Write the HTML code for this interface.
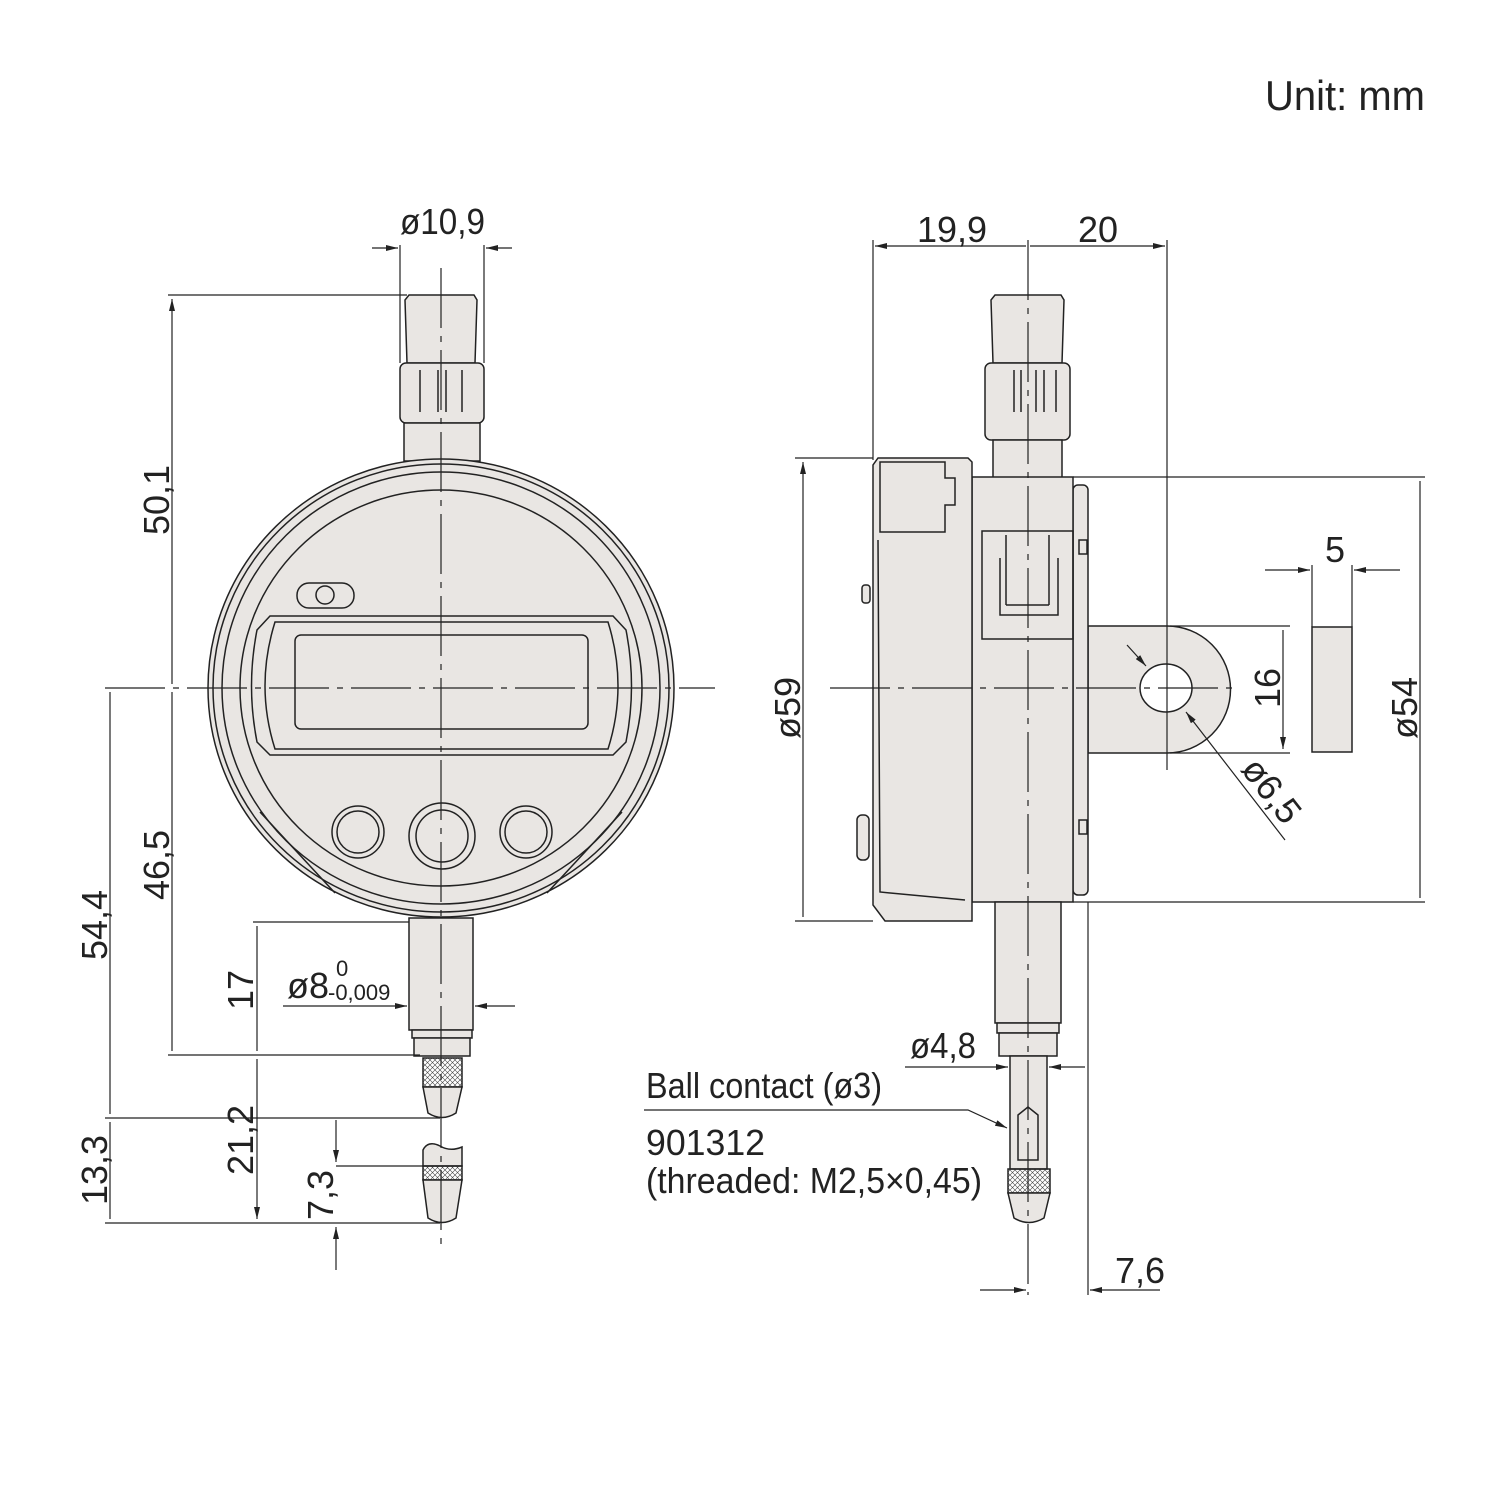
<!DOCTYPE html>
<html><head><meta charset="utf-8"><style>
html,body{margin:0;padding:0;background:#fff}
svg{display:block}
text{font-family:"Liberation Sans",sans-serif;fill:#222}
</style></head><body>
<svg width="1500" height="1500" viewBox="0 0 1500 1500" xmlns="http://www.w3.org/2000/svg">
<defs>
<marker id="a" viewBox="0 0 12 6" refX="12" refY="3" markerWidth="12" markerHeight="6" orient="auto-start-reverse" markerUnits="userSpaceOnUse"><path d="M0,0 L12,3 L0,6z" fill="#222"/></marker>
<pattern id="k" width="5" height="5" patternUnits="userSpaceOnUse"><path d="M0,0L5,5M5,0L0,5" stroke="#444" stroke-width="0.6"/></pattern>
</defs>
<g stroke="#222" stroke-width="1.5" fill="#e9e6e3">
<path d="M409,295 L474,295 L477,300 L475,363 L407,363 L405,300z"/>
<rect x="400" y="363" width="84" height="60" rx="6"/>
<path d="M420,370 V412 M438,370 V412 M446,370 V412 M462,370 V412" fill="none"/>
<rect x="404" y="423" width="76" height="38"/>
<ellipse cx="441" cy="688" rx="233" ry="229"/>
<ellipse cx="441" cy="688" rx="228" ry="224" fill="none"/>
<ellipse cx="441" cy="688" rx="219" ry="216" fill="none"/>
<ellipse cx="441" cy="688" rx="201" ry="198" fill="none"/>
<path d="M260,812 L335,893 M622,812 L547,893" fill="none"/>
<rect x="297" y="583" width="57" height="25" rx="12"/>
<circle cx="325" cy="595" r="9"/>
<path d="M270,616 L613,616 L626,630 Q637,686 626,742 L613,755 L270,755 L257,742 Q246,686 257,630z"/>
<path d="M275,622 L608,622 Q628,686 608,749 L275,749 Q255,686 275,622z" fill="none"/>
<rect x="295" y="635" width="293" height="94" rx="6"/>
<circle cx="358" cy="832" r="26"/><circle cx="358" cy="832" r="21"/>
<circle cx="442" cy="836" r="33"/><circle cx="442" cy="836" r="26"/>
<circle cx="526" cy="832" r="26"/><circle cx="526" cy="832" r="21"/>
<rect x="409" y="918" width="64" height="112"/>
<rect x="412" y="1030" width="60" height="8"/>
<rect x="414" y="1038" width="56" height="18"/>
<rect x="423" y="1058" width="39" height="29" fill="url(#k)"/>
<path d="M423,1087 L462,1087 L456,1113 Q442,1122 428,1113z"/>
<path d="M423,1166 L423,1150 Q428,1140 440,1146 Q450,1152 462,1147 L462,1166z"/>
<rect x="423" y="1166" width="39" height="14" fill="url(#k)"/>
<path d="M423,1180 L462,1180 L456,1218 Q442,1227 428,1218z"/>
<path d="M995,295 L1061,295 L1064,300 L1062,363 L993,363 L991,300z"/>
<rect x="985" y="363" width="85" height="77" rx="6"/>
<path d="M1014,370 V412 M1021,370 V412 M1036,370 V412 M1044,370 V412 M1056,370 V412" fill="none"/>
<rect x="993" y="440" width="69" height="38"/>
<path d="M1088,626 L1167,626 A63,63 0 0 1 1167,753 L1088,753z"/>
<ellipse cx="1166" cy="688" rx="26" ry="24" fill="#fff"/>
<rect x="1073" y="485" width="15" height="410" rx="5"/>
<rect x="972" y="477" width="101" height="425"/>
<rect x="982" y="531" width="91" height="108" fill="none"/>
<path d="M1006,535 V605 M1049,535 V605 M1006,605 H1049 M1000,558 V615 H1058 V558" fill="none"/>
<path d="M878,458 L968,458 L972,462 L972,921 L885,921 L873,905 L873,465z"/>
<path d="M880,462 L945,462 L945,478 L955,478 L955,505 L945,505 L945,532 L880,532z" fill="none"/>
<path d="M878,540 L880,892 L965,900" fill="none"/>
<rect x="862" y="585" width="8" height="18" rx="3"/>
<rect x="857" y="815" width="12" height="45" rx="5"/>
<rect x="1079" y="540" width="8" height="14"/><rect x="1079" y="820" width="8" height="14"/>
<rect x="995" y="902" width="66" height="121"/>
<rect x="997" y="1023" width="62" height="10"/>
<rect x="999" y="1033" width="58" height="23"/>
<rect x="1010" y="1056" width="37" height="113"/>
<path d="M1018,1115 L1028,1107 L1038,1115 L1038,1160 L1018,1160z" fill="none"/>
<rect x="1008" y="1169" width="42" height="24" fill="url(#k)"/>
<path d="M1008,1193 L1050,1193 L1044,1218 Q1029,1227 1014,1218z"/>
<rect x="1312" y="627" width="40" height="125"/>
</g>
<g stroke="#222" stroke-width="1.2" fill="none">
<path d="M441,268 V1252 M1028,240 V1295 M105,688 H715 M830,688 H1235" stroke-dasharray="60,8,6,8"/>
<path d="M168,295 H407 M168,1055 H420 M105,1118 H440 M105,1223 H440 M253,922 H409 M336,1166 H423"/>
<path d="M172,299 V684 M172,692 V1051 M110,692 V1114 M110,1122 V1219 M257,926 V1051 M257,1059 V1219" marker-start="url(#a)" marker-end="url(#a)"/>
<path d="M336,1120 V1162" marker-end="url(#a)"/><path d="M336,1270 V1227" marker-end="url(#a)"/>
<path d="M283,1006 H407" marker-end="url(#a)"/><path d="M515,1006 H475" marker-end="url(#a)"/>
<path d="M400,245 V363 M484,245 V363"/>
<path d="M372,248 H398" marker-end="url(#a)"/><path d="M512,248 H486" marker-end="url(#a)"/>
<path d="M873,240 V460 M1167,240 V770"/>
<path d="M875,246 H1026 M1030,246 H1165" marker-start="url(#a)" marker-end="url(#a)"/>
<path d="M795,458 H873 M795,921 H873 M1073,477 H1425 M1073,902 H1425 M1170,626 H1290 M1170,753 H1290 M1312,565 V627 M1352,565 V627"/>
<path d="M803,462 V917 M1420,481 V898 M1283,630 V749" marker-start="url(#a)" marker-end="url(#a)"/>
<path d="M1265,570 H1310" marker-end="url(#a)"/><path d="M1400,570 H1354" marker-end="url(#a)"/>
<path d="M1127,645 L1146,666" marker-end="url(#a)"/><path d="M1285,840 L1186,712" marker-end="url(#a)"/>
<path d="M905,1067 H1008" marker-end="url(#a)"/><path d="M1085,1067 H1049" marker-end="url(#a)"/>
<path d="M1088,902 V1295"/>
<path d="M980,1290 H1026" marker-end="url(#a)"/><path d="M1160,1290 H1090" marker-end="url(#a)"/>
<path d="M644,1110 H968 L1007,1128" marker-end="url(#a)"/>
</g>
<g font-size="36">
<text x="1425" y="110" text-anchor="end" font-size="42" textLength="160" lengthAdjust="spacingAndGlyphs">Unit: mm</text>
<text x="400" y="234" textLength="85" lengthAdjust="spacingAndGlyphs">ø10,9</text>
<text x="952" y="242" text-anchor="middle">19,9</text>
<text x="1098" y="242" text-anchor="middle">20</text>
<text x="1335" y="562" text-anchor="middle">5</text>
<text transform="translate(169,500) rotate(-90)" text-anchor="middle">50,1</text>
<text transform="translate(169,865) rotate(-90)" text-anchor="middle">46,5</text>
<text transform="translate(107,925) rotate(-90)" text-anchor="middle">54,4</text>
<text transform="translate(107,1170) rotate(-90)" text-anchor="middle">13,3</text>
<text transform="translate(253,990) rotate(-90)" text-anchor="middle">17</text>
<text transform="translate(253,1140) rotate(-90)" text-anchor="middle">21,2</text>
<text transform="translate(333,1195) rotate(-90)" text-anchor="middle">7,3</text>
<text transform="translate(800,708) rotate(-90)" text-anchor="middle">ø59</text>
<text transform="translate(1417,708) rotate(-90)" text-anchor="middle">ø54</text>
<text transform="translate(1280,688) rotate(-90)" text-anchor="middle">16</text>
<text transform="translate(1262,798) rotate(52)" text-anchor="middle">ø6,5</text>
<text x="287" y="998">ø8</text>
<text x="336" y="976" font-size="22">0</text>
<text x="328" y="1000" font-size="22">-0,009</text>
<text x="910" y="1058" textLength="66" lengthAdjust="spacingAndGlyphs">ø4,8</text>
<text x="1115" y="1283">7,6</text>
<text x="646" y="1098" textLength="236" lengthAdjust="spacingAndGlyphs">Ball contact (ø3)</text>
<text x="646" y="1155" textLength="119" lengthAdjust="spacingAndGlyphs">901312</text>
<text x="646" y="1193" textLength="336" lengthAdjust="spacingAndGlyphs">(threaded: M2,5×0,45)</text>
</g>
</svg>
</body></html>
